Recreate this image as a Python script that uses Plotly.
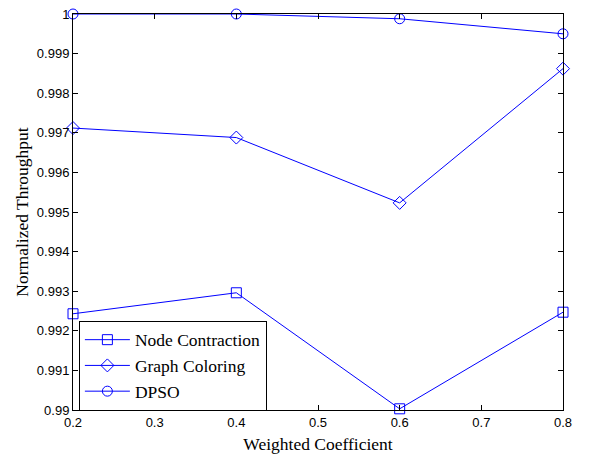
import plotly.graph_objects as go

x = [0.2, 0.4, 0.6, 0.8]
node_contraction = [0.99243, 0.99296, 0.99003, 0.99247]
graph_coloring = [0.99712, 0.99688, 0.99523, 0.99862]
dpso = [1.0, 1.0, 0.99988, 0.99950]

series = [
    ("Node Contraction", node_contraction, "square-open"),
    ("Graph Coloring", graph_coloring, "diamond-open"),
    ("DPSO", dpso, "circle-open"),
]

fig = go.Figure()
for name, vals, sym in series:
    fig.add_trace(go.Scatter(
        x=x, y=vals, name=name, mode="lines+markers",
        line=dict(color="#0000ff", width=1),
        marker=dict(symbol=sym, size=10, color="#0000ff", line=dict(width=1, color="#0000ff")),
        cliponaxis=False,
    ))

axis_common = dict(
    showline=True, linecolor="black", linewidth=1, mirror="ticks",
    ticks="inside", ticklen=5, tickcolor="black", showgrid=False, zeroline=False,
    ticklabeloverflow="allow", automargin=False,
    tickfont=dict(family="Liberation Sans, Arial", size=13, color="black"),
)

fig.update_layout(
    width=599, height=462,
    margin=dict(l=65, r=44, t=6, b=60, autoexpand=False),
    paper_bgcolor="white", plot_bgcolor="white",
    xaxis=dict(range=[0.2, 0.8], tickvals=[0.2, 0.3, 0.4, 0.5, 0.6, 0.7, 0.8],
               ticktext=["0.2", "0.3", "0.4", "0.5", "0.6", "0.7", "0.8"],
               title=dict(text="Weighted Coefficient", standoff=9,
                          font=dict(family="Liberation Serif, Times New Roman", size=17.5, color="black")),
               **axis_common),
    yaxis=dict(range=[0.99, 1.0],
               tickvals=[0.99, 0.991, 0.992, 0.993, 0.994, 0.995, 0.996, 0.997, 0.998, 0.999, 1.0],
               ticktext=["0.99", "0.991", "0.992", "0.993", "0.994", "0.995", "0.996", "0.997", "0.998", "0.999", "1"],
               title=dict(text="Normalized Throughput", standoff=3,
                          font=dict(family="Liberation Serif, Times New Roman", size=17.5, color="black")),
               **axis_common),
    legend=dict(x=0.012, y=-0.002, xanchor="left", yanchor="bottom",
                bgcolor="white", bordercolor="black", borderwidth=1,
                font=dict(family="Liberation Serif, Times New Roman", size=17.5, color="black"),
                tracegroupgap=0, itemwidth=45),
    showlegend=True,
)

fig.write_html("out.html")
